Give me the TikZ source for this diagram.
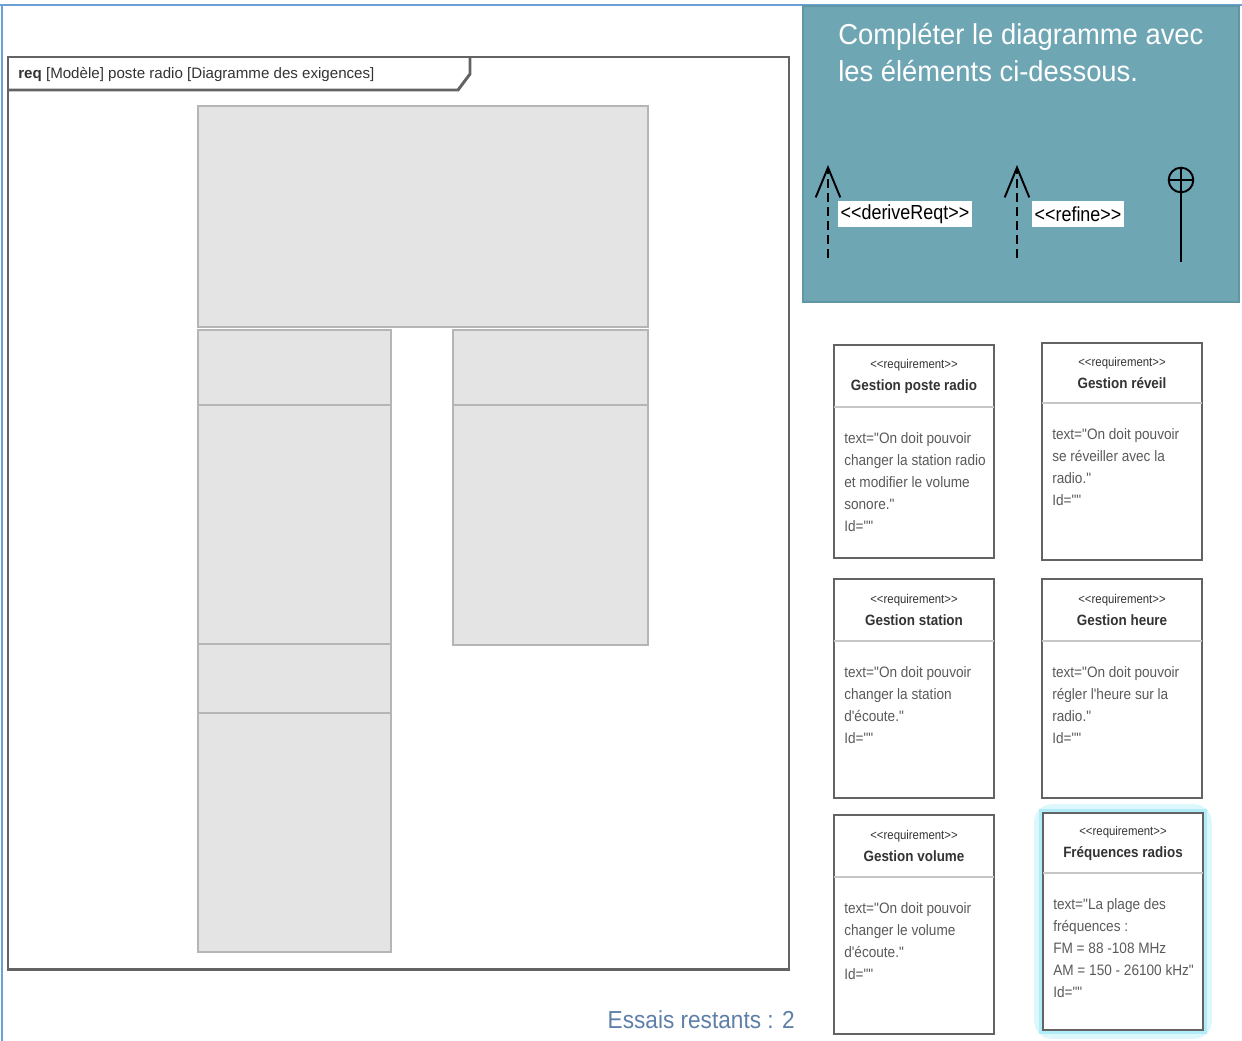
\documentclass[tikz,border=0pt]{standalone}
\usepackage{fontspec}
\newfontfamily\umlfont{Liberation Sans}
\usetikzlibrary{positioning,arrows.meta}

\definecolor{panelblue}{HTML}{6FA6B4}
\definecolor{paneledge}{HTML}{5F97A5}
\definecolor{pageedge}{HTML}{6A9FD8}
\definecolor{slotfill}{HTML}{E4E4E4}
\definecolor{slotedge}{HTML}{B5B5B5}
\definecolor{framegray}{HTML}{636363}
\definecolor{textgray}{HTML}{5A5A5A}
\definecolor{triesblue}{HTML}{5E7FA8}
\definecolor{glowcyan}{HTML}{8FE6F5}

\tikzset{
  slot/.style = {fill = slotfill, draw = slotedge, line width = 1.6pt},
  reqframe/.style = {fill = white, draw = framegray, line width = 1.6pt},
  reqsep/.style = {draw = gray!45, line width = 1.2pt},
  reqtitle/.style = {align = center, inner sep = 0pt, text = black!80, transform shape, xscale = 0.9,
                     font = \umlfont\fontsize{8.5}{12.5}\selectfont},
  reqbody/.style = {align = left, inner sep = 0pt, text = textgray, transform shape, xscale = 0.9,
                    font = \umlfont\fontsize{8.6}{12.5}\selectfont},
  stereo/.style = {fill = white, inner sep = 1.5pt, minimum height = 15pt, transform shape, xscale = 0.88,
                   font = \umlfont\fontsize{11.6}{13}\selectfont},
  link/.style = {line width = 1.1pt},
}

% one requirement block: name, x1, y1, x2, y2, separator y, title, body
\newcommand{\reqblock}[8]{%
  \draw[reqframe] (#2,#3) rectangle (#4,#5);
  \draw[reqsep] (#2,#6) -- (#4,#6);
  \node[reqtitle] (#1-head) at ({(#2+#4)/2},{(#3+#6)/2})
    {{\fontsize{7.2}{12.5}\selectfont <<requirement>>}\\\textbf{#7}};
  \node[reqbody, anchor = north west] (#1-body) at (#2+10,#6+25) {#8};
}

\begin{document}
\begin{tikzpicture}[x = 0.02cm, y = -0.02cm]
\useasboundingbox (0,0) rectangle (1242,1041);

% page edge
\draw[pageedge, line width = 1.2pt] (0,5) -- (1242,5);
\draw[pageedge, line width = 1.2pt] (2,5) -- (2,1041);

% diagram frame
\draw[framegray, line width = 1.7pt] (8,57) rectangle (789,969);
\draw[framegray, line width = 1.7pt] (8,90) -- (458,90) -- (470,74) -- (470,57);
\node[anchor = west, inner sep = 0pt, text = black!80, font = \umlfont\fontsize{8.6}{10}\selectfont] (frame-title) at (18,75)
  {\textbf{req} [Modèle] poste radio [Diagramme des exigences]};

% empty slots
\foreach \xa/\ya/\xb/\yb in {198/106/648/327, 198/330/391/405, 198/405/391/644, 198/644/391/713,
                             198/713/391/952, 453/330/648/405, 453/405/648/645}
  \draw[slot] (\xa,\ya) rectangle (\xb,\yb);

% instruction panel
\draw[fill = panelblue, draw = paneledge, line width = 1pt] (803,6) rectangle (1239,302);
\node[anchor = north west, inner sep = 0pt, align = left, text = white, transform shape, xscale = 0.95,
      font = \umlfont\fontsize{16.4}{21}\selectfont] (prompt) at (838,23)
  {Compléter le diagramme avec\\les éléments ci-dessous.};

\coordinate (derive-tail) at (828,258);
\coordinate (derive-tip) at (828,165);
\draw[link, dash pattern = on 5pt off 3pt, -{Straight Barb[length = 17pt, width = 14pt, line width = 1.1pt]}] (derive-tail) -- (derive-tip);
\node[stereo, anchor = west] (derive-label) at (838,214) {<<deriveReqt>>};

\coordinate (refine-tail) at (1017,258);
\coordinate (refine-tip) at (1017,165);
\draw[link, dash pattern = on 5pt off 3pt, -{Straight Barb[length = 17pt, width = 14pt, line width = 1.1pt]}] (refine-tail) -- (refine-tip);
\node[stereo, anchor = west] (refine-label) at (1032,214) {<<refine>>};

\node[circle, draw, link, minimum size = 14pt, inner sep = 0pt] (contain) at (1181,180) {};
\coordinate (contain-end) at (1181,262);
\draw[link] (contain.north) -- (contain-end);
\draw[link] (contain.west) -- (contain.east);

% requirements
\reqblock{poste}{834}{345}{994}{558}{407}{Gestion poste radio}
  {text="On doit pouvoir\\changer la station radio\\et modifier le volume\\sonore."\\Id=""}
\reqblock{reveil}{1042}{343}{1202}{560}{403}{Gestion réveil}
  {text="On doit pouvoir\\se réveiller avec la\\radio."\\Id=""}
\reqblock{station}{834}{579}{994}{798}{641}{Gestion station}
  {text="On doit pouvoir\\changer la station\\d'écoute."\\Id=""}
\reqblock{heure}{1042}{579}{1202}{798}{641}{Gestion heure}
  {text="On doit pouvoir\\régler l'heure sur la\\radio."\\Id=""}
\reqblock{volume}{834}{815}{994}{1034}{877}{Gestion volume}
  {text="On doit pouvoir\\changer le volume\\d'écoute."\\Id=""}
\draw[glowcyan!30, line width = 10pt, rounded corners = 5pt] (1043,813) rectangle (1203,1030);
\draw[glowcyan!70, line width = 5pt] (1043,813) rectangle (1203,1030);
\reqblock{frequences}{1043}{813}{1203}{1030}{873}{Fréquences radios}
  {text="La plage des\\fréquences :\\FM = 88 -108 MHz\\AM = 150 - 26100 kHz"\\Id=""}

\node[anchor = east, inner sep = 0pt, text = triesblue, transform shape, xscale = 0.92,
      font = \umlfont\fontsize{14}{16}\selectfont] (tries) at (795,1020) {Essais restants : 2};
\end{tikzpicture}
\end{document}
